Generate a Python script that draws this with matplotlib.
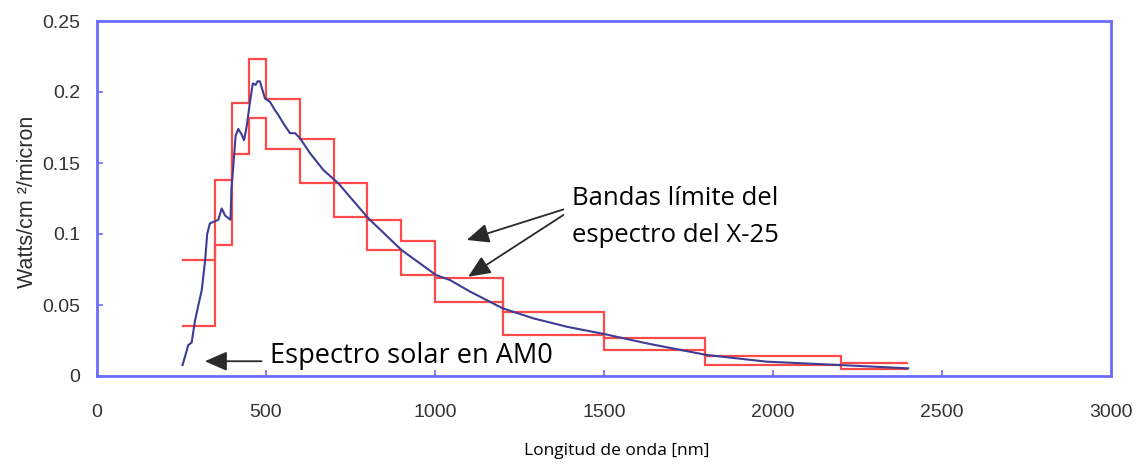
import matplotlib
matplotlib.use("Agg")
import matplotlib.pyplot as plt
from matplotlib.ticker import FuncFormatter

# Bandas limite del espectro del X-25 (nm, W/cm2/micron)
band_edges = [250, 350, 400, 450, 500, 600, 700, 800, 900, 1000, 1200, 1500, 1800, 2200, 2400]
band_upper = [0.082, 0.138, 0.192, 0.223, 0.195, 0.167, 0.136, 0.110, 0.095, 0.069, 0.045, 0.027, 0.014, 0.009]
band_lower = [0.035, 0.092, 0.156, 0.182, 0.160, 0.136, 0.112, 0.089, 0.071, 0.052, 0.029, 0.018, 0.008, 0.005]

# Espectro solar AM0
am0_wl = [253, 262, 270, 280, 290, 300, 310, 320, 326, 334, 349, 359, 369, 379, 395, 398,
          403, 410, 418, 428, 435, 443, 452, 461, 469, 475, 482, 490, 497, 512, 527, 536,
          551, 571, 586, 601, 630, 670, 714, 803, 901, 1003, 1044, 1104, 1200, 1291, 1390,
          1500, 1626, 1804, 1981, 2200, 2400]
am0_irr = [0.0077, 0.015, 0.0218, 0.0235, 0.039, 0.050, 0.0606, 0.0817, 0.100, 0.1075, 0.109,
           0.110, 0.118, 0.113, 0.110, 0.133, 0.147, 0.169, 0.174, 0.170, 0.166, 0.176, 0.192,
           0.206, 0.205, 0.2075, 0.2075, 0.201, 0.1955, 0.193, 0.187, 0.184, 0.178, 0.171,
           0.171, 0.1673, 0.157, 0.145, 0.1357, 0.111, 0.0887, 0.0711, 0.0676, 0.0594, 0.0477,
           0.0406, 0.0347, 0.0296, 0.023, 0.0148, 0.0101, 0.0077, 0.0054]

x_ticks = [0, 500, 1000, 1500, 2000, 2500, 3000]
y_ticks = [0, 0.05, 0.1, 0.15, 0.2, 0.25]

frame_col = '#6b6bff'
red = '#ff4a4a'
navy = '#3d3d96'
txt_col = '#333333'

fig = plt.figure(figsize=(11.4, 4.66), dpi=100)
ax = fig.add_axes([97/1140, 90/466, 1014/1140, 355/466])

# bands and spectrum
ax.stairs(band_upper, band_edges, baseline=None, color=red, lw=1.6)
ax.stairs(band_lower, band_edges, baseline=None, color=red, lw=1.6)
ax.plot(am0_wl, am0_irr, color=navy, lw=1.5)

ax.set_xlim(0, 3000)
ax.set_ylim(0, 0.25)
ax.set_xticks(x_ticks)
ax.set_yticks(y_ticks)
ax.yaxis.set_major_formatter(FuncFormatter(lambda v, p: f"{v:g}"))

for s in ax.spines.values():
    s.set_color(frame_col)
    s.set_linewidth(2)

ax.tick_params(axis='both', direction='in', color=frame_col, length=4, width=1.2,
               labelsize=14, labelcolor=txt_col)
ax.tick_params(axis='x', pad=20)
ax.tick_params(axis='y', pad=12)
for lab in ax.get_xticklabels() + ax.get_yticklabels():
    lab.set_family('Liberation Sans')

ax.set_ylabel("Watts/cm ²/micron", family='Liberation Sans', fontsize=15.5, color='#2e2e2e')
ax.yaxis.set_label_coords(-59/1014, 0.49)
ax.set_xlabel("Longitud de onda [nm]", family='Open Sans', fontsize=12.5, color='black')
ax.xaxis.set_label_coords((617-97)/1014, -(443-376)/355)

# annotations
ax.text(1405, 0.1338, "Bandas límite del\nespectro del X-25", family='Open Sans',
        fontsize=18.5, color='black', va='top', ha='left', linespacing=1.63)
ax.text(512, 0.0142, "Espectro solar en AM0", family='Open Sans', fontsize=19.5,
        color='black', va='center', ha='left')

arrow = dict(arrowstyle='-|>,head_length=0.8,head_width=0.35', color='#2a2a2a', lw=1.3,
             mutation_scale=17, shrinkA=0, shrinkB=0)
ax.annotate("", xy=(1094, 0.0958), xytext=(1380, 0.1173), arrowprops=arrow)
ax.annotate("", xy=(1098, 0.0699), xytext=(1380, 0.1134), arrowprops=arrow)
ax.annotate("", xy=(319, 0.0104), xytext=(487, 0.0104), arrowprops=arrow)

fig.savefig("out.png", dpi=100)
